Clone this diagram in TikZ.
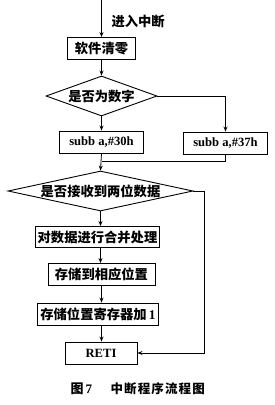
\documentclass[tikz,border=0pt]{standalone}
\usepackage{fontspec}
\setmainfont{Liberation Serif}
\newfontfamily\cjk{Noto Sans CJK SC}
\usetikzlibrary{shapes.geometric,arrows.meta}
\begin{document}
\begin{tikzpicture}[x=1pt,y=-1pt,
  zh/.style={font=\cjk\bfseries\fontsize{13.3}{15}\selectfont},
  en/.style={font=\bfseries\fontsize{12.6}{14}\selectfont},
  box/.style={draw,line width=0.9pt,minimum height=22pt,inner sep=0pt},
  dia/.style={draw,diamond,line width=0.9pt,inner sep=0pt,minimum height=40pt},
  flow/.style={line width=0.8pt,-{Stealth[length=5pt,width=4pt]}},
  plain/.style={line width=0.8pt}]
\useasboundingbox (0,0) rectangle (274,405);

\coordinate (start) at (101.5,0);
\node[anchor=west,zh] (lbl) at (108,21) {进入中断};
\node[box,zh,minimum width=68pt] (b1) at (101.5,48.5) {软件清零};
\node[dia,zh,minimum width=111pt,aspect=2.8] (d1) at (101.5,96) {是否为数字};
\node[box,en,minimum width=84pt] (s30) at (101.5,142) {subb a,\#30h};
\node[box,en,minimum width=84pt] (s37) at (225.5,143) {subb a,\#37h};
\coordinate (merge) at (101.5,161);
\node[dia,zh,minimum width=185pt,aspect=4.6] (d2) at (100.5,191) {是否接收到两位数据};
\coordinate (rt) at (204,191);
\node[box,zh,minimum width=124pt,minimum height=21pt] (b3) at (97.5,237) {对数据进行合并处理};
\node[box,zh,minimum width=107pt] (b4) at (101.5,274.5) {存储到相应位置};
\node[box,zh,minimum width=121pt] (b5) at (98,314) {存储位置寄存器加\,{\normalfont\bfseries 1}};
\node[box,en,minimum width=72pt] (reti) at (101,353) {RETI};

\node[anchor=west,font=\bfseries\fontsize{13}{15}\selectfont] (cap1) at (67,389) {\cjk\bfseries 图\,\normalfont\bfseries 7};
\node[anchor=west,font=\cjk\bfseries\fontsize{12.5}{15}\selectfont] (cap2) at (107,389) {\addfontfeature{LetterSpace=9}中断程序流程图};

\draw[flow] (start) -- (b1.north);
\draw[flow] (b1.south) -- (d1.north);
\draw[flow] (d1.south) -- (s30.north);
\draw[flow] (d1.east) -| (s37.north);
\draw[flow] (s30.south) -- (d2.north);
\draw[plain] (s37.south) |- (merge);
\draw[flow] (d2.south) -- (d2.south |- b3.north);
\draw[flow] (d2.south |- b3.south) -- (d2.south |- b4.north);
\draw[flow] (b4.south) -- (b4.south |- b5.north);
\draw[flow] (b4.south |- b5.south) -- (b4.south |- reti.north);
\draw[plain] (d2.east) -- (rt);
\draw[flow] (rt) |- (reti.east);
\end{tikzpicture}
\end{document}
